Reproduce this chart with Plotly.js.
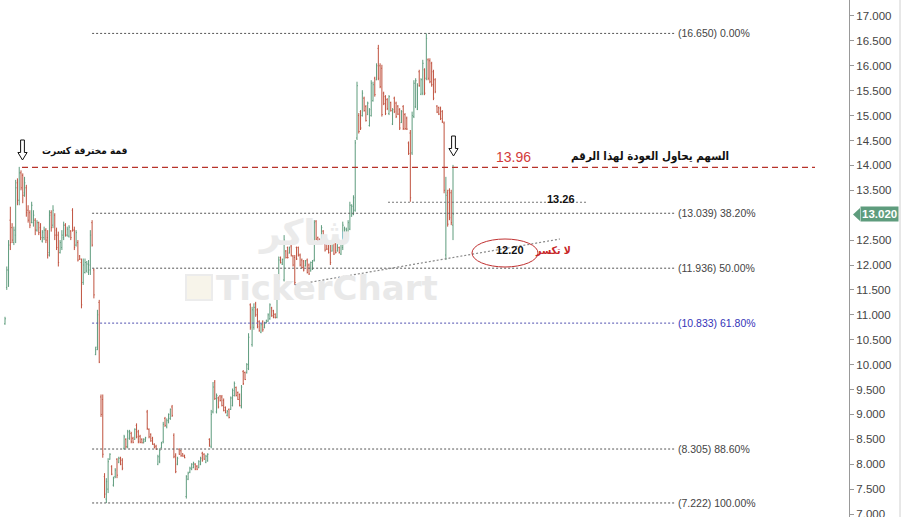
<!DOCTYPE html>
<html>
<head>
<meta charset="utf-8">
<script src="https://cdn.plot.ly/plotly-3.0.1.min.js"></script>
<style>html,body{margin:0;padding:0;background:#fff;}#chart{width:902px;height:517px;}</style>
</head>
<body>
<div id="chart"></div>
<script>
const open = [10.82,11.55,11.90,12.90,12.75,12.45,12.60,13.65,13.30,13.85,13.80,13.45,13.55,13.10,13.05,12.85,12.85,12.90,12.70,12.85,12.75,12.48,12.55,12.70,12.55,12.25,13.05,12.80,13.00,12.70,12.60,12.25,12.35,12.55,12.80,12.60,12.58,12.68,13.10,12.70,12.40,12.45,12.18,12.05,11.65,11.85,11.88,11.85,11.90,12.85,11.90,10.20,10.35,11.25,9.35,9.30,7.75,7.30,7.50,8.10,7.95,7.58,7.75,8.10,8.04,8.12,8.08,8.32,8.50,8.35,8.52,8.62,8.52,8.50,8.78,8.65,8.56,8.50,8.43,8.46,9.05,8.70,8.60,8.52,8.40,8.36,8.00,8.05,8.33,8.45,8.92,8.75,8.85,8.92,9.15,8.58,8.18,8.00,8.30,8.27,8.21,8.18,7.35,7.70,7.84,7.90,7.93,8.00,7.96,7.93,8.00,8.22,8.20,8.04,8.07,8.50,8.35,9.05,9.65,9.05,9.33,9.37,9.35,9.28,9.14,8.98,9.10,9.10,9.18,9.38,9.54,9.44,9.40,9.15,9.86,9.84,9.84,9.92,11.20,10.40,10.75,11.22,11.10,10.86,10.65,10.86,10.74,10.84,10.87,10.92,11.14,11.08,11.01,10.95,11.72,12.15,12.02,11.70,12.28,12.35,12.24,12.38,12.18,12.15,12.35,12.35,12.20,12.10,12.08,11.98,12.10,12.00,11.88,11.92,12.10,12.88,12.55,12.52,12.48,12.68,12.50,12.45,12.47,12.44,12.28,12.48,12.42,12.28,12.35,12.22,12.35,12.46,12.52,12.60,12.72,12.98,13.02,13.10,14.55,15.00,15.08,15.00,15.35,15.18,15.02,14.80,15.00,15.30,15.75,15.72,16.35,16.00,15.95,15.45,15.38,15.32,15.04,15.26,14.83,15.35,15.25,15.19,15.12,14.86,15.18,15.02,14.95,14.45,14.65,14.25,14.98,15.18,15.13,15.88,15.43,15.45,15.92,15.75,16.12,16.10,16.05,15.88,15.72,15.19,15.16,15.15,15.08,14.85,12.20,13.45,13.50,13.45,12.80];
const high = [10.96,11.97,12.50,13.17,12.84,12.77,13.71,13.74,13.97,13.90,13.84,13.77,13.61,13.20,13.10,13.27,13.10,12.94,12.90,12.87,12.84,12.70,12.77,12.74,12.70,13.10,13.10,13.20,13.04,12.75,12.67,12.50,12.70,12.87,12.84,12.77,12.80,12.70,13.14,12.77,12.70,12.50,12.20,12.13,12.13,12.13,12.08,12.10,12.70,12.90,11.93,10.36,11.10,11.30,9.40,9.40,7.82,7.72,8.12,8.22,7.98,7.75,7.92,8.12,8.15,8.15,8.12,8.59,8.52,8.69,8.69,8.65,8.55,8.72,8.82,8.69,8.59,8.52,8.52,8.55,9.09,8.72,8.62,8.55,8.42,8.39,8.19,8.32,8.45,8.85,8.95,8.92,9.02,9.12,9.19,8.62,8.22,8.15,8.32,8.29,8.22,8.19,7.78,7.85,7.95,8.02,8.05,8.02,7.98,8.08,8.15,8.25,8.22,8.19,8.22,8.52,9.09,9.65,9.69,9.42,9.36,9.39,9.39,9.32,9.16,9.09,9.12,9.36,9.52,9.66,9.56,9.46,9.42,9.59,9.89,9.86,10.03,10.63,11.23,11.16,11.23,11.26,11.13,10.89,10.83,10.89,10.86,10.90,11.03,11.23,11.16,11.10,11.03,11.70,12.17,12.17,12.13,12.60,12.30,12.37,12.37,12.40,12.20,12.20,12.37,12.37,12.23,12.13,12.10,12.10,12.13,12.03,12.07,12.10,12.90,12.90,12.57,12.53,12.80,12.70,12.53,12.47,12.50,12.47,12.50,12.50,12.44,12.47,12.37,12.50,12.87,12.77,12.75,12.90,13.27,13.22,13.40,14.51,15.68,15.05,15.11,15.51,15.38,15.21,15.28,15.15,15.71,15.68,15.78,16.05,16.42,16.05,16.02,15.48,15.41,15.35,15.41,15.28,15.15,15.38,15.28,15.21,15.15,15.11,15.21,15.05,14.98,14.48,14.71,15.08,15.71,15.75,15.65,15.92,15.75,16.12,15.95,16.65,16.15,16.15,16.08,15.92,15.75,15.21,15.18,15.18,15.11,14.88,13.77,13.51,13.54,13.51,14.01];
const low = [10.80,11.50,11.56,12.30,12.44,12.40,12.44,13.20,13.20,13.50,13.24,13.37,12.97,12.85,12.74,12.84,12.77,12.60,12.67,12.60,12.50,12.45,12.50,12.44,12.13,12.17,12.67,12.74,12.50,12.30,11.97,12.23,12.30,12.50,12.57,12.57,12.55,12.50,12.67,12.30,12.37,12.07,12.10,11.13,11.60,11.83,11.85,11.80,11.80,12.37,11.33,10.19,10.29,10.03,8.95,8.13,7.32,7.22,7.42,8.09,7.78,7.55,7.72,7.72,8.02,7.98,7.88,8.29,8.32,8.32,8.49,8.42,8.42,8.49,8.52,8.42,8.42,8.42,8.42,8.45,8.69,8.52,8.45,8.39,8.32,8.29,7.98,8.02,8.32,8.42,8.75,8.72,8.82,8.89,8.95,8.12,7.82,7.98,8.19,8.15,8.15,8.12,7.31,7.68,7.82,7.88,7.92,7.88,7.88,7.92,7.98,8.05,8.09,8.02,8.05,8.35,8.32,9.02,9.29,9.02,9.12,9.26,9.16,9.06,9.02,8.96,8.92,9.09,9.16,9.36,9.36,9.29,9.16,9.12,9.59,9.69,9.82,9.89,10.70,10.36,10.70,10.96,10.73,10.66,10.63,10.66,10.73,10.83,10.86,10.90,10.96,10.93,10.93,10.93,11.70,12.03,12.00,11.67,12.13,12.13,12.23,12.17,11.97,11.60,12.10,12.17,11.97,11.93,11.87,11.97,11.83,11.80,11.87,11.90,12.07,12.50,12.44,12.44,12.47,12.44,12.27,12.30,12.23,12.00,12.27,12.20,12.23,12.27,12.23,12.20,12.30,12.44,12.51,12.57,12.70,12.97,13.00,13.07,14.51,14.64,14.71,14.98,15.08,14.88,15.01,14.78,14.98,15.28,15.38,15.71,15.71,15.55,14.98,15.21,15.01,15.11,15.01,15.08,14.81,15.05,14.95,15.01,14.71,14.85,14.71,14.71,14.71,14.21,13.27,14.21,14.95,15.15,15.11,15.58,15.41,15.41,15.41,15.71,15.71,15.65,15.58,15.31,15.45,15.05,15.01,14.91,14.85,13.44,12.10,12.77,12.90,12.80,12.50];
const close = [10.92,11.90,12.40,12.45,12.50,12.70,13.55,13.30,13.85,13.55,13.40,13.65,13.05,12.90,12.80,13.20,13.00,12.70,12.85,12.65,12.55,12.66,12.70,12.50,12.20,13.00,12.75,13.10,12.60,12.35,12.05,12.45,12.60,12.80,12.60,12.72,12.76,12.55,12.70,12.35,12.65,12.10,12.12,11.20,12.00,12.05,12.02,12.00,12.60,12.40,11.40,10.30,11.00,10.05,9.00,8.20,7.40,7.65,8.05,8.20,7.80,7.72,7.88,7.78,8.12,8.00,7.92,8.55,8.35,8.65,8.66,8.45,8.44,8.70,8.55,8.45,8.44,8.43,8.50,8.53,8.72,8.55,8.47,8.40,8.33,8.30,8.15,8.28,8.42,8.80,8.78,8.88,9.00,9.10,8.98,8.15,7.85,8.12,8.20,8.17,8.16,8.13,7.75,7.82,7.92,8.00,8.02,7.90,7.90,8.05,8.12,8.08,8.10,8.16,8.20,8.38,9.00,9.55,9.32,9.38,9.15,9.28,9.18,9.08,9.04,9.06,8.94,9.33,9.48,9.62,9.38,9.30,9.18,9.55,9.62,9.70,10.00,10.55,10.75,11.10,11.15,11.00,10.76,10.68,10.80,10.70,10.84,10.89,11.00,11.20,10.98,10.95,10.94,11.65,12.10,12.05,12.11,12.50,12.15,12.15,12.35,12.20,12.00,11.65,12.12,12.20,12.00,11.95,11.90,12.08,11.85,11.82,12.05,12.08,12.85,12.52,12.46,12.45,12.75,12.46,12.30,12.32,12.25,12.05,12.48,12.22,12.25,12.45,12.25,12.48,12.80,12.72,12.70,12.85,13.20,13.18,13.35,14.45,15.60,14.68,14.75,15.45,15.10,14.90,15.25,15.12,15.65,15.62,15.42,16.00,15.75,15.58,15.02,15.24,15.04,15.14,15.38,15.10,15.12,15.08,14.98,15.03,14.75,15.08,14.74,14.74,14.73,14.24,13.35,15.00,15.65,15.70,15.60,15.60,15.72,16.05,15.45,16.55,15.75,15.68,15.62,15.35,15.48,15.07,15.03,14.94,14.88,13.50,13.40,12.82,12.95,12.85,13.02];

const fibLevels = [16.650, 13.039, 11.936, 10.833, 8.305, 7.222];
const fibPct = ['0.00%', '38.20%', '50.00%', '61.80%', '88.60%', '100.00%'];
const resistanceLevel = 13.96;
const resistanceLabel = '13.96';
const supportLevel = 13.26;
const supportLabel = '13.26';
const trendLevel = 12.20;
const trendLabel = '12.20';
const lastPrice = 13.02;
const yTicks = [7,7.5,8,8.5,9,9.5,10,10.5,11,11.5,12,12.5,13.5,14,14.5,15,15.5,16,16.5,17];

const N = open.length;
const x = open.map((_, i) => i);

// layout geometry helpers
const W = 902, H = 517, plotW = 849;
const s = 448 / (N - 1);          // pixels per bar
const xr0 = -5 / s, xr1 = xr0 + plotW / s;
const px2x = p => xr0 + p / s;
const yr0 = 6.94, yr1 = 17.321;
const py2y = p => yr1 - p * (yr1 - yr0) / H;
const pp = (px, py) => (px / plotW).toFixed(5) + ',' + (1 - py / H).toFixed(5);

const fibStart = 49;
const trendStart = 163;

const shapes = [];
const annotations = [];

fibLevels.forEach((lv, i) => {
  const blue = fibPct[i] === '61.80%';
  shapes.push({type:'line', xref:'x', yref:'y', x0: fibStart, x1: px2x(675), y0: lv, y1: lv,
    line:{color: blue ? '#5050b0' : '#555', width:1, dash:'2px,2px'}});
  annotations.push({xref:'x', yref:'y', x: px2x(676), y: lv, xanchor:'left', yanchor:'middle',
    text: '(' + lv.toFixed(3) + ') ' + fibPct[i], showarrow:false,
    font:{family:'Liberation Sans', size:10.5, color: blue ? '#3434b8' : '#444'}});
});

// resistance red dashed
shapes.push({type:'line', xref:'x', yref:'y', x0: px2x(22), x1: px2x(815), y0: resistanceLevel, y1: resistanceLevel,
  line:{color:'#b8322a', width:1.3, dash:'6px,4px'}});
// 13.26 short dotted
shapes.push({type:'line', xref:'x', yref:'y', x0: px2x(388), x1: px2x(588), y0: supportLevel, y1: supportLevel,
  line:{color:'#777', width:1, dash:'2px,2px'}});
// trend dotted
shapes.push({type:'line', xref:'x', yref:'y', x0: trendStart, x1: px2x(560), y0: low[trendStart], y1: py2y(239),
  line:{color:'#888', width:1.2, dash:'2px,2px'}});
// ellipse
shapes.push({type:'circle', xref:'x', yref:'y', x0: px2x(472), x1: px2x(538), y0: py2y(267), y1: py2y(239),
  line:{color:'#c03030', width:1}});

// hollow down arrows
function arrow(cx, top, tip) {
  const sh = 1.9, hw = 4.6, hy = tip - 7.5;
  return {type:'path', xref:'paper', yref:'paper', line:{color:'#111', width:1}, fillcolor:'#fff',
    path: 'M' + pp(cx - sh, top) + ' L' + pp(cx + sh, top) + ' L' + pp(cx + sh, hy) + ' L' + pp(cx + hw, hy) +
      ' L' + pp(cx, tip) + ' L' + pp(cx - hw, hy) + ' L' + pp(cx - sh, hy) + ' Z'};
}
shapes.push(arrow(22.5, 140, 160));
shapes.push(arrow(453.5, 136, 156));

// watermark logo box
shapes.push({type:'rect', xref:'paper', yref:'paper', x0: 186/plotW, x1: 212/plotW, y0: 1-300/H, y1: 1-275/H,
  line:{color:'#ececec', width:2}, fillcolor:'#f7f4ea', layer:'below'});

// price marker triangle
shapes.push({type:'path', xref:'paper', yref:'paper', fillcolor:'#5e9c7d', line:{width:0},
  path: 'M' + pp(853, 214.5) + ' L' + pp(860, 208) + ' L' + pp(860, 221) + ' Z'});
// right border
shapes.push({type:'line', xref:'paper', yref:'paper', x0: 900/plotW, x1: 900/plotW, y0:0, y1:1,
  line:{color:'#d0d0d0', width:1}});

const ann = (px, py, text, font, anchor) => annotations.push({xref:'paper', yref:'paper',
  x: px/plotW, y: 1 - py/H, text, showarrow:false, xanchor: anchor || 'center', yanchor:'middle', font});

// watermark
ann(327, 288, 'TickerChart', {family:'DejaVu Sans', size:34, color:'#e9e9e9', weight:700});
ann(305, 233, '<b>شاكر</b>', {family:'DejaVu Sans', size:36, color:'#ebebeb'});

ann(84, 151, '<b>قمة مخترقة كسرت</b>', {family:'DejaVu Sans Condensed, DejaVu Sans', size:10, color:'#111'});
ann(513, 157, resistanceLabel, {family:'Liberation Sans', size:14, color:'#d23b3b'});
ann(650, 156, '<b>السهم يحاول العودة لهذا الرقم</b>', {family:'DejaVu Sans Condensed, DejaVu Sans', size:11.5, color:'#111'});
ann(561, 199, '<b>' + supportLabel + '</b>', {family:'Liberation Sans', size:11, color:'#111'});
ann(510, 250, '<b>' + trendLabel + '</b>', {family:'Liberation Sans', size:11, color:'#111'});
ann(553, 250, '<b>لا تكسر</b>', {family:'DejaVu Sans Condensed, DejaVu Sans', size:10.5, color:'#c82828'});

// price marker label
annotations.push({xref:'paper', yref:'y', x: 860/plotW, y: lastPrice, xanchor:'left', yanchor:'middle',
  text: '<b>' + lastPrice.toFixed(3) + '</b>', showarrow:false, bgcolor:'#5e9c7d', borderpad:1,
  font:{family:'Liberation Sans', size:11.5, color:'#fff'}});

const trace = {
  type:'ohlc', x, open, high, low, close,
  increasing:{line:{color:'#5e9c7d', width:1}},
  decreasing:{line:{color:'#c0523f', width:1}},
  tickwidth:0.45, hoverinfo:'skip'
};

const layout = {
  width: W, height: H,
  margin:{l:0, r:W - plotW, t:0, b:0},
  paper_bgcolor:'#fff', plot_bgcolor:'#fff',
  showlegend:false, dragmode:false,
  font:{family:'Liberation Sans'},
  xaxis:{visible:false, range:[xr0, xr1], rangeslider:{visible:false}, fixedrange:true},
  yaxis:{side:'right', range:[yr0, yr1], tickvals: yTicks, ticktext: yTicks.map(v => v.toFixed(3)),
    showgrid:false, zeroline:false, showline:true, linecolor:'#999', linewidth:1,
    ticks:'outside', ticklen:4, tickcolor:'#999', ticklabeloverflow:'allow',
    tickfont:{family:'Liberation Sans', size:11.5, color:'#444'}, fixedrange:true},
  shapes, annotations
};

Plotly.newPlot('chart', [trace], layout, {displayModeBar:false, staticPlot:true});
</script>
</body>
</html>
